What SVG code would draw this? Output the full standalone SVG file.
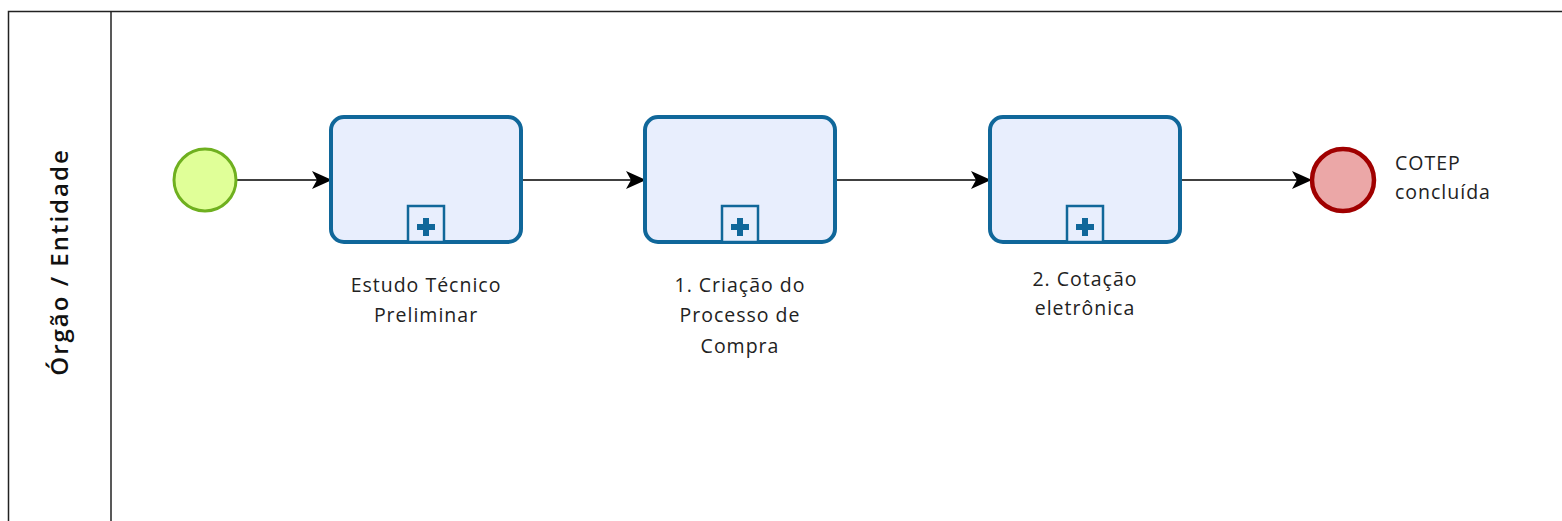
<svg xmlns="http://www.w3.org/2000/svg" width="1562" height="521" viewBox="0 0 1562 521">
<defs>
<style>
.lane{fill:#fff;stroke:#222;stroke-width:1.5}
.task{fill:#e8eefd;stroke:#10679a;stroke-width:4}
.plus{fill:#e8eefd;stroke:#10679a;stroke-width:2.5}
.cross{fill:#10679a}
.flow{stroke:#000;stroke-width:1.6;fill:none;marker-end:url(#arr)}
.lbl{font-family:"Open Sans","Noto Sans",sans-serif;font-size:19.5px;letter-spacing:1px;fill:#222;text-anchor:middle}
.lft{text-anchor:start}
</style>
<marker id="arr" markerWidth="20" markerHeight="18" viewBox="0 0 20 18" refX="19" refY="9" orient="auto" markerUnits="userSpaceOnUse">
<path d="M0,0 L20,9 L0,18 L5,9 Z" fill="#000"/>
</marker>
<g id="subplus">
<rect class="plus" x="-18" y="-36" width="36" height="36"/>
<path class="cross" d="M-3,-24 h6 v6 h6 v6 h-6 v6 h-6 v-6 h-6 v-6 h6 Z"/>
</g>
</defs>
<rect width="1562" height="521" fill="#fff"/>
<g id="pool">
<rect class="lane" x="8.5" y="11.5" width="1570" height="530"/>
<line x1="111" y1="11.5" x2="111" y2="521" stroke="#222" stroke-width="1.5"/>
<text x="62" y="262" transform="rotate(-90 62 262)" font-family="'Open Sans','Noto Sans',sans-serif" font-size="24" font-weight="600" letter-spacing="2" fill="#111" text-anchor="middle" dominant-baseline="middle">Órgão / Entidade</text>
</g>
<g id="connectors">
<line class="flow" x1="237" y1="180" x2="331" y2="180"/>
<line class="flow" x1="521" y1="180" x2="645" y2="180"/>
<line class="flow" x1="835" y1="180" x2="990" y2="180"/>
<line class="flow" x1="1180" y1="180" x2="1311" y2="180"/>
</g>
<g id="start">
<circle cx="205" cy="180" r="31" fill="#e0ff98" stroke="#6fb01f" stroke-width="3"/>
</g>
<g id="task1">
<rect class="task" x="331" y="117" width="190" height="125" rx="13"/>
<use href="#subplus" x="426" y="242"/>
<text class="lbl" x="426" y="292">Estudo Técnico</text>
<text class="lbl" x="426" y="322">Preliminar</text>
</g>
<g id="task2">
<rect class="task" x="645" y="117" width="190" height="125" rx="13"/>
<use href="#subplus" x="740" y="242"/>
<text class="lbl" x="740" y="292">1. Criação do</text>
<text class="lbl" x="740" y="322">Processo de</text>
<text class="lbl" x="740" y="353">Compra</text>
</g>
<g id="task3">
<rect class="task" x="990" y="117" width="190" height="125" rx="13"/>
<use href="#subplus" x="1085" y="242"/>
<text class="lbl" x="1085" y="286">2. Cotação</text>
<text class="lbl" x="1085" y="315">eletrônica</text>
</g>
<g id="end">
<circle cx="1343" cy="180" r="31" fill="#eba7a7" stroke="#a00000" stroke-width="4.5"/>
<text class="lbl lft" x="1395" y="170">COTEP</text>
<text class="lbl lft" x="1395" y="199">concluída</text>
</g>
</svg>
